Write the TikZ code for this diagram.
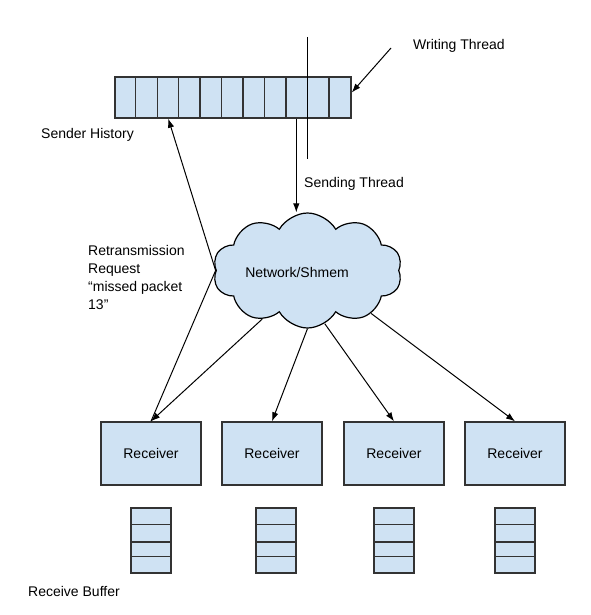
\documentclass[tikz,border=0pt]{standalone}
\usepackage{fontspec}
\setmainfont{Liberation Sans}
\usetikzlibrary{shapes.symbols,arrows.meta,calc}
\definecolor{boxblue}{HTML}{CFE2F3}
\definecolor{edge}{HTML}{333333}
\begin{document}
\begin{tikzpicture}[x=1pt,y=-1pt, font=\fontsize{14}{18}\selectfont,
  box/.style={draw=edge, line width=1.4pt, fill=boxblue, inner sep=0pt},
  divider/.style={draw=edge, line width=1.4pt},
  conn/.style={line width=1pt, -{Latex[length=9pt,width=6.5pt]}},
  plainline/.style={line width=1pt},
  lbl/.style={inner sep=0pt, anchor=west}]
\useasboundingbox (0,0) rectangle (590,615);

% sender history
\node[box, minimum width=236pt, minimum height=41pt] (hist) at (233,97.5) {};
\foreach \i in {1,...,10}
  \draw[divider] ($(hist.north west)+(\i*21.4545,0)$) -- ($(hist.south west)+(\i*21.4545,0)$);

% receivers
\foreach \n/\x in {r1/151, r2/272, r3/394, r4/515}
  \node[box, minimum width=100pt, minimum height=63pt, yshift=-1pt] (\n) at (\x,452.5) {Receiver};

% receive buffers
\foreach \n/\x in {b1/151, b2/276, b3/394, b4/515}{
  \node[box, minimum width=40pt, minimum height=65pt] (\n) at (\x,540.5) {};
  \foreach \f in {0.26,0.52,0.74}
    \draw[divider] ($(\n.north west)!\f!(\n.south west)$) -- ($(\n.north east)!\f!(\n.south east)$);
}

% cloud
\node[cloud, draw=black, fill=boxblue, line width=1.2pt, cloud puffs=10, cloud puff arc=120,
      aspect=1.64, minimum width=189pt, minimum height=115pt, inner sep=0pt] (net) at (307.5,270.5) {};
\node[inner sep=0pt] (netlbl) at (297,272) {Network/Shmem};

% writing thread marker line
\coordinate (wtop) at (307,37);
\coordinate (wbot) at (307,159);
\draw[plainline] (wtop) -- (wbot);

% sending thread
\coordinate (sfrom) at ($(hist.south west)+(182,0)$);
\draw[conn] (sfrom) -- (sfrom |- net.north);

% writing thread arrow
\coordinate (wstart) at (391,48);
\draw[conn] (wstart) -- ($(hist.east)+(0,-5)$);

% retransmission request
\coordinate (hret) at ($(hist.south west)+(54,0)$);
\draw[conn] (r1.north) -- (net.west) -- (hret);

% network to receivers
\draw[conn] (net.227) -- (r1.north);
\draw[conn] (net.270) -- (r2.north);
\draw[conn] (net.288) -- (r3.north);
\draw[conn] (net.326) -- (r4.north);

% labels
\node[lbl] (wt) at (413,45.5) {Writing Thread};
\node[lbl] (st) at (304,183.5) {Sending Thread};
\node[lbl] (sh) at (41,134.5) {Sender History};
\node[lbl, anchor=north west, align=left] (rr) at (88,245) {Retransmission\\Request\\“missed packet\\13”};
\node[lbl] (rb) at (28,591.5) {Receive Buffer};
\end{tikzpicture}
\end{document}
